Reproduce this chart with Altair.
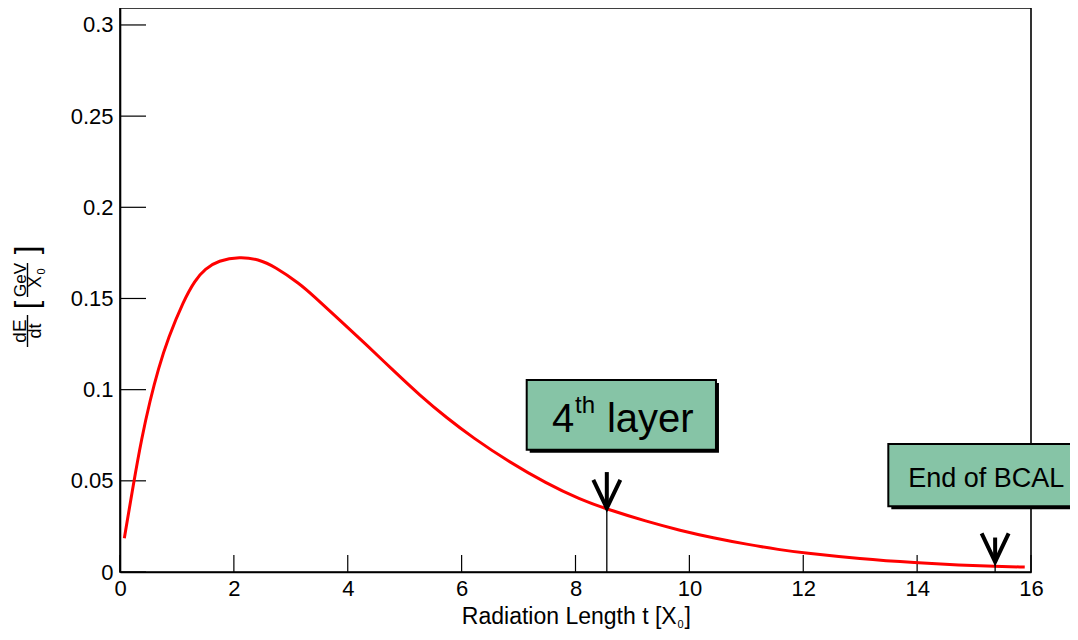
import altair as alt
import pandas as pd

# ---------------- data ----------------
t_vals = [0.076, 0.234, 0.381, 0.527, 0.673, 0.848, 1.112, 1.317, 1.493, 1.726,
          2.107, 2.429, 2.718, 3.161, 3.395, 3.864, 4.333, 4.80, 5.269, 5.738,
          6.205, 6.791, 7.494, 8.079, 8.548, 9.25, 9.835, 10.42, 11.006,
          11.59, 11.99, 12.996, 13.99, 14.75, 15.37, 15.89]
dedt_vals = [0.0185, 0.0480, 0.0735, 0.0940, 0.1115, 0.1285, 0.1485, 0.1600, 0.1663, 0.1708,
             0.1730, 0.1715, 0.1675, 0.1580, 0.1515, 0.1380, 0.1245, 0.1105, 0.0968, 0.0845,
             0.0735, 0.0612, 0.0485, 0.0398, 0.0345, 0.0277, 0.0228, 0.0187, 0.0152,
             0.0122, 0.0105, 0.0072, 0.0050, 0.0038, 0.0031, 0.0027]

x_tick_vals = [0, 2, 4, 6, 8, 10, 12, 14, 16]
y_tick_vals = [0, 0.05, 0.1, 0.15, 0.2, 0.25, 0.3]

arrow_t = [8.55, 15.37]
arrow_top = [0.0548, 0.0189]
arrow_tip = [0.0350, 0.0056]

box_t1 = [7.143, 13.494]
box_t2 = [10.467, 16.9]
box_top = [0.1053, 0.0702]
box_bottom = [0.0671, 0.0360]

# ---------------- layout / style ----------------
W, H = 911, 564
PAD = {"left": 112, "top": 0, "right": 39, "bottom": 60}
PX0, PY0 = 8 + PAD["left"], 8 + PAD["top"]   # page position of plot origin
FONT = "Liberation Sans"
BOX_FILL = "#86c4a6"

xs = alt.Scale(domain=[0, 16], nice=False, zero=False)
ys = alt.Scale(domain=[0, 0.3093], nice=False, zero=False)
xaxis = alt.Axis(values=x_tick_vals, format="d", ticks=False, tickSize=0, grid=False,
                 title=None, labelPadding=6, labelFontSize=22, labelFont=FONT,
                 labelColor="black", domainColor="black", domainWidth=1.6,
                 labelFlush=False, labelOverlap=False)
yaxis = alt.Axis(values=y_tick_vals, format=".2~f", ticks=False, tickSize=0, grid=False,
                 title=None, labelPadding=7, labelFontSize=22, labelFont=FONT,
                 labelColor="black", domainColor="black", domainWidth=1.6,
                 labelFlush=False, labelOverlap=False)


def X(f):
    return alt.X(f, type="quantitative", scale=xs, axis=xaxis)


def Y(f):
    return alt.Y(f, type="quantitative", scale=ys, axis=yaxis)


one = pd.DataFrame({"a": [0]})

curve_df = pd.DataFrame({"t": t_vals, "v": dedt_vals})
xt_df = pd.DataFrame({"t": x_tick_vals})
yt_df = pd.DataFrame({"v": y_tick_vals})
arrow_df = pd.DataFrame({"t": arrow_t, "top": arrow_top, "tip": arrow_tip, "zero": [0, 0]})
box_df = pd.DataFrame({"x1": box_t1, "x2": box_t2, "y1": box_top, "y2": box_bottom})

layers = []

# inward ticks
layers.append(alt.Chart(xt_df).mark_rule(color="black", strokeWidth=1.2).encode(
    x=X("t"), y=alt.value(H), y2=alt.value(H - 17)))
layers.append(alt.Chart(yt_df).mark_rule(color="black", strokeWidth=1.2).encode(
    y=Y("v"), x=alt.value(0), x2=alt.value(26)))

# curve
layers.append(alt.Chart(curve_df).mark_line(color="#ff0000", strokeWidth=3,
                                            interpolate="basis").encode(x=X("t"), y=Y("v")))

# thin lines from axis to arrow tips
layers.append(alt.Chart(arrow_df).mark_rule(color="black", strokeWidth=1.3).encode(
    x=X("t"), y=Y("zero"), y2=alt.Y2("tip")))
# arrow shafts
layers.append(alt.Chart(arrow_df).mark_rule(color="black", strokeWidth=4).encode(
    x=X("t"), y=Y("top"), y2=alt.Y2("tip")))
# arrow heads
layers.append(alt.Chart(arrow_df).mark_point(
    shape="M -1 -2.1 L 0 0 L 1 -2.1", filled=False, size=729, strokeWidth=4,
    color="black", opacity=1, strokeJoin="miter").encode(x=X("t"), y=Y("tip")))

# boxes with shadow
layers.append(alt.Chart(box_df).mark_rect(color="black", xOffset=3, x2Offset=3,
                                          yOffset=3, y2Offset=3).encode(
    x=X("x1"), x2=alt.X2("x2"), y=Y("y1"), y2=alt.Y2("y2")))
layers.append(alt.Chart(box_df).mark_rect(fill=BOX_FILL, stroke="black", strokeWidth=2).encode(
    x=X("x1"), x2=alt.X2("x2"), y=Y("y1"), y2=alt.Y2("y2")))


def dtext(s, t, v, size, align="left"):
    return alt.Chart(pd.DataFrame({"t": [t], "v": [v]})).mark_text(
        text=s, align=align, baseline="alphabetic", fontSize=size, font=FONT,
        color="black").encode(x=X("t"), y=Y("v"))


layers.append(dtext("4", 7.587, 0.07695, 40))
layers.append(dtext("th", 7.991, 0.0870, 24))
layers.append(dtext("layer", 8.553, 0.07695, 40))
layers.append(dtext("End of BCAL", 15.215, 0.04645, 27, align="center"))


def ptext(s, px, py, size, align="center", angle=0):
    return alt.Chart(one).mark_text(
        text=s, align=align, baseline="alphabetic", angle=angle, fontSize=size,
        font=FONT, color="black").encode(x=alt.value(px - PX0), y=alt.value(py - PY0))


def pbar(px, py1, py2):
    return alt.Chart(one).mark_rule(color="black", strokeWidth=1.4).encode(
        x=alt.value(px - PX0), y=alt.value(py1 - PY0), y2=alt.value(py2 - PY0))


# y-axis title:  dE/dt [GeV/X0]  (rotated)
layers += [
    ptext("dE", 26, 331, 19, angle=270),
    pbar(27.5, 315, 347),
    ptext("dt", 40.5, 331, 18, angle=270),
    ptext("[", 37, 305, 31, angle=270),
    ptext("GeV", 26, 280, 17, angle=270),
    pbar(27.5, 263, 297),
    ptext("X", 40.5, 282, 18, angle=270),
    ptext("0", 44.5, 271.5, 11, angle=270),
    ptext("]", 37, 250, 31, angle=270),
]

# x-axis title: Radiation Length t [X0]
layers += [
    ptext("Radiation Length t [X", 676.7, 624, 23, align="right"),
    ptext("0", 677.5, 628, 11, align="left"),
    ptext("]", 684.5, 624, 23, align="left"),
]

chart = alt.layer(*layers).properties(
    width=W, height=H, padding=PAD,
    autosize=alt.AutoSizeParams(type="none"),
    background="white",
).configure_view(stroke="black", strokeWidth=1.6)

chart.save("out.html", embed_options={"renderer": "svg", "actions": False})
